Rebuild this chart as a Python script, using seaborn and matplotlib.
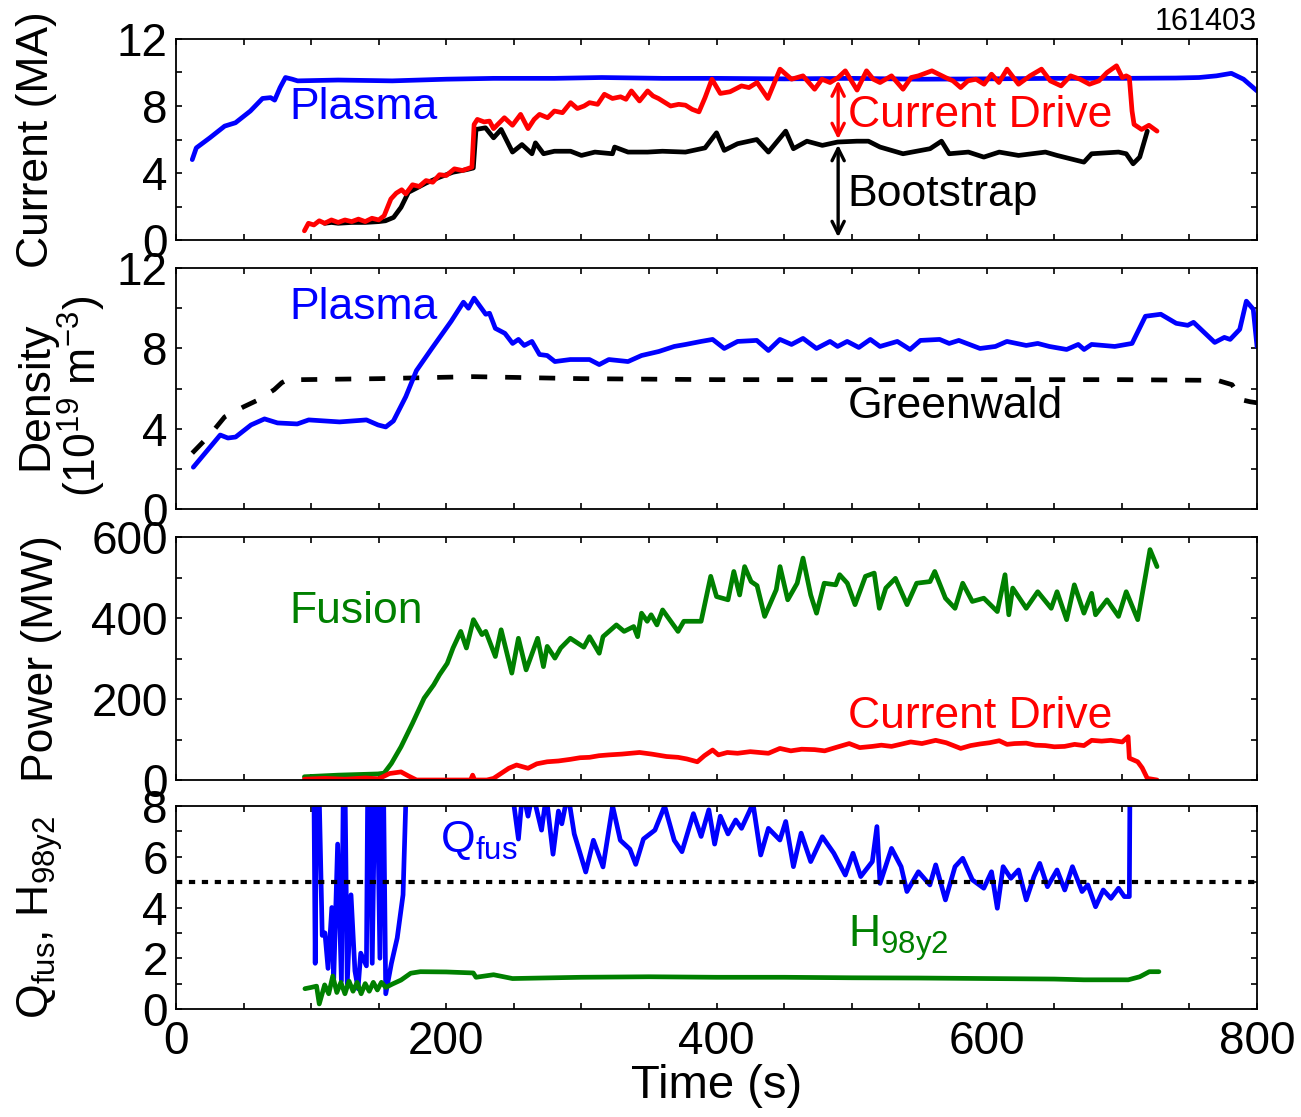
import numpy as np
import matplotlib
matplotlib.use('Agg')
import matplotlib.pyplot as plt
from matplotlib.ticker import MultipleLocator
import seaborn as sns

# ---- panel 1: current (MA) ----
ip_t = [12, 15, 25, 36, 44, 55, 64, 70, 73, 77, 81, 86, 90, 120, 160, 200, 235, 280, 315,
        360, 400, 450, 500, 550, 600, 650, 700, 740, 757, 770, 781, 790, 800]
ip_v = [4.8, 5.5, 6.1, 6.8, 7.0, 7.7, 8.45, 8.5, 8.35, 9.1, 9.7, 9.6, 9.5, 9.55, 9.5, 9.6,
        9.65, 9.65, 9.7, 9.65, 9.65, 9.62, 9.65, 9.6, 9.62, 9.65, 9.65, 9.67, 9.7, 9.8, 9.95,
        9.6, 8.9]

icd_t = [95, 98, 102, 106, 110, 115, 120, 125, 130, 135, 140, 145, 150, 154, 159, 163, 167,
         170, 175, 180, 185, 190, 195, 200, 206, 212, 219, 220.6, 223, 228, 232, 235, 243, 249,
         255, 260.5, 265, 269, 275, 280, 286, 292, 297, 302, 306, 312, 317, 323, 329, 333, 337,
         343, 349, 353, 357, 362, 366, 372, 377, 382, 387, 391.5, 396.6, 402.8, 410, 418.5, 424,
         430, 438, 447, 455.5, 464, 472.6, 478, 484, 490, 495.3, 504, 511, 516, 521, 529.5, 538,
         544, 549.4, 559.4, 569.4, 575, 580.7, 586, 592, 598, 603.5, 609, 615, 623.5, 632,
         640.5, 647, 655, 662, 669, 676, 683, 689, 696, 700.3, 703.2, 705.5, 707.5, 709, 714.6,
         720, 726]
icd_v = [0.55, 1.0, 0.9, 1.15, 1.0, 1.2, 1.05, 1.2, 1.1, 1.25, 1.1, 1.3, 1.2, 1.45, 2.45, 2.8,
         3.0, 2.75, 3.3, 3.2, 3.55, 3.45, 3.9, 3.85, 4.25, 4.15, 4.35, 6.9, 7.2, 7.05, 7.1, 6.65,
         7.3, 6.85, 7.5, 6.65, 7.2, 7.5, 7.3, 7.7, 7.6, 8.2, 7.85, 8.0, 8.2, 8.1, 8.7, 8.45, 8.55,
         8.4, 8.9, 8.3, 8.9, 8.6, 8.45, 8.2, 8.0, 8.1, 8.05, 7.8, 7.65, 8.5, 9.6, 8.75, 8.85, 9.2,
         9.1, 9.4, 8.45, 10.2, 9.6, 9.8, 9.0, 9.6, 9.4, 9.7, 10.1, 8.95, 10.1, 9.6, 9.4, 9.8, 9.0,
         9.7, 9.8, 10.1, 9.7, 9.5, 9.1, 9.5, 9.6, 9.3, 9.9, 9.4, 10.2, 9.3, 9.8, 10.2, 9.5, 9.2,
         9.8, 9.6, 9.3, 9.5, 10.0, 10.4, 9.7, 9.8, 9.7, 7.7, 6.9, 6.6, 6.85, 6.5]

ibs_t = [110, 115, 120, 130, 140, 150, 155, 161, 166.5, 172, 178, 185, 195, 205, 215, 220, 222,
         229, 235, 240.6, 249, 256, 263.4, 266, 272, 280, 292, 300, 310, 323, 324.6, 334.5, 349,
         360, 377, 391.5, 400, 405.7, 415.6, 429.8, 438.4, 451.2, 456.9, 466.9, 478.3, 489.6,
         503.9, 512.4, 521, 538, 558, 566.5, 572.2, 586.4, 597.8, 609.2, 623.5, 643.4, 652,
         671.9, 677.6, 697.5, 703.2, 708.3, 713.2, 718.8]
ibs_v = [1.0, 1.05, 1.0, 1.05, 1.05, 1.1, 1.15, 1.35, 1.95, 2.85, 3.1, 3.4, 3.75, 4.05, 4.2,
         4.3, 6.6, 6.7, 6.1, 6.6, 5.25, 5.7, 5.15, 5.8, 5.15, 5.3, 5.3, 5.05, 5.25, 5.15, 5.55,
         5.25, 5.25, 5.3, 5.25, 5.5, 6.4, 5.35, 5.75, 6.0, 5.25, 6.5, 5.45, 5.9, 5.65, 5.85, 5.9,
         5.9, 5.55, 5.15, 5.45, 5.9, 5.15, 5.25, 4.95, 5.25, 5.05, 5.25, 5.05, 4.65, 5.15, 5.25,
         5.15, 4.55, 4.95, 6.5]

# ---- panel 2: density (1e19 m^-3) ----
ne_t = [12.8, 32.7, 38.4, 44.1, 55.5, 65.5, 75.1, 89.7, 98.2, 121, 140.9, 149.5, 155.2, 160.9,
        170, 177.9, 189.3, 203.6, 212.7, 216.4, 220.6, 229.2, 232, 236.3, 243.4, 249.1, 253.4,
        257.7, 263.4, 269, 274.7, 280.4, 291.8, 306, 313.2, 320.3, 334.5, 344.5, 357.3, 368.7,
        377.2, 388.6, 397.1, 405.7, 415.6, 429.8, 438.4, 446.9, 455.5, 464, 474, 484, 489.6,
        496.7, 505.3, 513.8, 521, 533.8, 543.2, 550.9, 565.1, 572.2, 579.3, 595, 606.4, 614.9,
        629.2, 637.7, 646.3, 659.1, 667.7, 672, 677.6, 694.7, 707.5, 717.4, 728.8, 740.2,
        748.7, 753, 768.7, 775.8, 780.1, 787.2, 792.1, 797.2, 800]
ne_v = [2.1, 3.7, 3.55, 3.6, 4.2, 4.5, 4.3, 4.25, 4.45, 4.35, 4.45, 4.2, 4.1, 4.4, 5.6, 6.9,
        8.0, 9.35, 10.3, 10.0, 10.5, 9.7, 9.75, 9.0, 8.75, 8.25, 8.45, 8.15, 8.35, 7.7, 7.65,
        7.35, 7.45, 7.45, 7.2, 7.45, 7.35, 7.65, 7.85, 8.1, 8.2, 8.35, 8.45, 8.0, 8.35, 8.4, 7.9,
        8.45, 8.2, 8.5, 8.0, 8.35, 8.1, 8.35, 8.05, 8.45, 8.1, 8.35, 7.95, 8.4, 8.45, 8.25, 8.4,
        8.0, 8.1, 8.35, 8.15, 8.25, 8.1, 7.95, 8.2, 7.95, 8.2, 8.1, 8.25, 9.6, 9.7, 9.25, 9.15,
        9.3, 8.3, 8.55, 8.45, 8.95, 10.35, 9.95, 8.1]

ngw_t = [12, 25, 36, 50, 61, 72.6, 78.3, 84, 92.5, 150, 220, 300, 400, 500, 600, 700, 760,
         771.5, 781.5, 788.6, 795, 800]
ngw_v = [2.8, 3.7, 4.6, 5.1, 5.45, 5.95, 6.3, 6.5, 6.45, 6.5, 6.6, 6.5, 6.45, 6.45, 6.45,
         6.45, 6.42, 6.4, 6.2, 5.45, 5.35, 5.3]

# ---- panel 3: power (MW) ----
pfus_t = [95, 120, 149.5, 154, 159.4, 166.5, 175, 183.6, 190.7, 195, 200.7, 205, 210.7, 214.9,
          220.1, 226.4, 229.2, 236.3, 240.6, 248.5, 253.4, 259.1, 267.6, 271.9, 274.7, 280.4,
          284.7, 291.8, 301.8, 306, 313.2, 316, 325.9, 331.6, 338.7, 341.6, 344.5, 348.7, 351.6,
          355.9, 360.1, 371.5, 375.8, 388.6, 395.7, 400, 404.3, 408.5, 412.8, 417.1, 420.8,
          425.6, 430, 435.6, 444.2, 447, 452.7, 459.7, 464, 469.7, 474, 479.7, 488.2, 491.1,
          496.8, 502.5, 510.2, 516.7, 520.5, 525.3, 532.4, 541, 548.1, 558, 561.5, 569.4, 576.5,
          582.2, 589.3, 597.8, 607.8, 613.5, 616.3, 619.2, 629.2, 637.7, 647.7, 652, 659.1,
          664.8, 671.9, 677.6, 680.5, 689, 697.5, 703.2, 711.7, 717.4, 720.8, 726]
pfus_v = [8, 12, 15, 17, 41, 82, 140, 202, 235, 260, 288, 326, 367, 326, 396, 359, 367, 305,
          371, 264, 350, 272, 350, 280, 330, 301, 326, 350, 328, 354, 313, 354, 383, 367, 379,
          354, 412, 392, 408, 383, 420, 367, 392, 392, 503, 453, 449, 445, 515, 457, 527, 490,
          480, 404, 470, 527, 445, 486, 548, 457, 412, 486, 482, 507, 486, 433, 503, 511, 424,
          474, 498, 433, 486, 490, 515, 449, 424, 486, 441, 449, 416, 507, 408, 474, 424, 465,
          424, 465, 396, 482, 412, 461, 408, 445, 404, 465, 396, 503, 569, 527]

pcd_t = [95, 110, 125, 140, 150, 158, 166.5, 172, 178, 200, 218, 219.5, 221, 230, 235, 246.3,
         252, 260.5, 267, 274.7, 283, 291.8, 299, 306, 313, 320.3, 330, 343, 352, 363, 371.5,
         378, 385.8, 391, 397.1, 401.4, 408, 415.6, 425, 438.4, 446.9, 455, 463, 472.6, 480,
         488, 498.2, 506, 515.3, 522, 529.5, 536, 543.7, 552, 562.2, 570, 580.7, 588, 595, 602,
         609.2, 615, 620.6, 629.2, 636, 643.4, 650, 657.6, 665, 671.9, 677.6, 685, 691.8, 700.3,
         704.6, 705.5, 711.7, 715, 718.8, 726]
pcd_v = [2, 4, 2, 5, 3, 16, 20, 10, 0, 0, 0, 12, 0, 0, 4, 29, 37, 29, 40, 45, 47, 51, 55, 56,
         60, 62, 64, 68, 64, 58, 56, 52, 45, 60, 74, 62, 68, 66, 70, 66, 78, 72, 76, 75, 72, 80,
         90, 80, 83, 86, 83, 88, 94, 90, 98, 92, 78, 85, 89, 92, 97, 88, 90, 91, 86, 85, 82, 83,
         88, 85, 98, 96, 98, 94, 107, 54, 45, 30, 4, 0]

# ---- panel 4: Qfus, H98y2 ----
q_t = [101.6, 103, 104.5, 108.2, 110.2, 112.5, 115.3, 116.7, 119.6, 122.4, 124.4, 126.7, 129.5,
       132.4, 134.7, 136.7, 140.9, 142.3, 145.2, 148, 150.9, 152.9, 155.2, 159.4, 163.7, 168,
       172.2, 210, 247.7, 253.4, 256.5, 260.5, 264, 270.5, 274, 279, 283, 285.5, 290, 294.7,
       303.2, 308.9, 316, 323.1, 328.8, 335.9, 340.2, 345.9, 354.4, 361.6, 368.7, 374.4, 382.9,
       388.6, 394.3, 398.6, 402.8, 408.5, 414.2, 418.5, 427, 432.7, 438.4, 446.9, 451.2, 456.9,
       462.6, 469.7, 478.3, 486.8, 495.3, 501, 506.7, 515.3, 518.7, 521, 529.5, 536.6, 540.9,
       549.4, 557.9, 562.2, 569.4, 576.5, 582.2, 589.3, 597.8, 603.5, 607.8, 612.1, 617.8,
       623.5, 629.2, 634.9, 639.2, 644.9, 652, 657.7, 663.4, 670.5, 674.8, 680.5, 686.2, 691.9,
       697.5, 701.8, 705.5, 706.5]
q_v = [12, 1.8, 12, 2.9, 3.0, 1.6, 4.0, 1.2, 6.5, 1.1, 12, 1.0, 4.5, 1.5, 0.8, 2.2, 1.7, 12,
       1.8, 12, 2.0, 12, 0.6, 1.8, 2.8, 4.5, 12, 14, 9, 6.7, 8.6, 7.6, 8.5, 7.05, 8.4, 6.1, 7.8,
       7.3, 8.5, 6.9, 5.4, 6.65, 5.6, 8.0, 6.65, 6.3, 5.7, 6.7, 7.05, 8.0, 6.65, 6.2, 7.7, 6.8,
       7.85, 6.5, 7.6, 6.9, 7.45, 7.12, 8.1, 6.07, 7.12, 6.66, 7.39, 5.61, 6.93, 5.81, 6.79,
       6.14, 5.28, 6.14, 5.22, 5.81, 7.19, 4.95, 6.33, 5.61, 4.63, 5.41, 4.89, 5.68, 4.30, 5.61,
       5.94, 5.09, 4.76, 5.41, 3.97, 5.61, 5.15, 5.48, 4.30, 5.22, 5.74, 4.82, 5.48, 4.69, 5.61,
       4.63, 4.89, 4.03, 4.69, 4.36, 4.76, 4.43, 4.43, 14]

h98_t = [95.4, 100, 104, 106, 110, 113, 116, 119, 122, 125, 128, 131, 134, 137, 140, 143, 146,
         149, 152, 155.2, 160, 166.5, 173.7, 180.8, 200, 220, 222, 235, 249, 300, 350, 400, 450,
         500, 550, 600, 650, 671.9, 704.7, 713.2, 720.3, 727.4]
h98_v = [0.8, 0.85, 0.9, 0.2, 0.95, 0.6, 1.3, 0.65, 1.05, 0.6, 1.1, 0.7, 1.05, 0.6, 1.0, 0.7,
         1.05, 0.75, 1.05, 0.85, 0.98, 1.14, 1.41, 1.47, 1.46, 1.42, 1.25, 1.35, 1.2, 1.25, 1.27,
         1.25, 1.25, 1.23, 1.22, 1.2, 1.18, 1.15, 1.15, 1.27, 1.47, 1.47]

q_target = 5
arrow_t = 490
shot = '161403'

BLUE, RED, GREEN, BLACK = '#0000ff', '#ff0000', '#008000', '#000000'
LW = 3.4
FS = 32

sns.set_theme(style='ticks')
plt.rcParams['font.family'] = ['Liberation Sans', 'DejaVu Sans']
plt.rcParams['mathtext.fontset'] = 'custom'
plt.rcParams['mathtext.rm'] = 'Liberation Sans'
plt.rcParams['mathtext.default'] = 'regular'
for k in ('text.color', 'axes.labelcolor', 'xtick.color', 'ytick.color',
          'xtick.labelcolor', 'ytick.labelcolor', 'axes.edgecolor'):
    plt.rcParams[k] = 'black'

fig = plt.figure(figsize=(13.01, 11.17), dpi=100)
L, W = 0.1353, 0.8309
ax1 = fig.add_axes([L, 0.7851, W, 0.1800])
ax2 = fig.add_axes([L, 0.5439, W, 0.2162])
ax3 = fig.add_axes([L, 0.3017, W, 0.2175])
ax4 = fig.add_axes([L, 0.0967, W, 0.1817])


def line(ax, t, v, color, **kw):
    sns.lineplot(x=t, y=v, ax=ax, color=color, linewidth=kw.pop('lw', LW), sort=False,
                 estimator=None, legend=False, **kw)


# panel 1
line(ax1, ip_t, ip_v, BLUE)
line(ax1, ibs_t, ibs_v, BLACK)
line(ax1, icd_t, icd_v, RED)
top = np.interp(arrow_t, icd_t, icd_v)
mid = np.interp(arrow_t, ibs_t, ibs_v)
ax1.annotate('', xy=(arrow_t, top), xytext=(arrow_t, mid),
             arrowprops=dict(arrowstyle='<->', color=RED, lw=2.4, mutation_scale=22))
ax1.annotate('', xy=(arrow_t, mid), xytext=(arrow_t, 0),
             arrowprops=dict(arrowstyle='<->', color=BLACK, lw=2.4, mutation_scale=22))
ax1.text(84, 7.9, 'Plasma', color=BLUE, fontsize=FS, va='center')
ax1.text(497, 7.45, 'Current Drive', color=RED, fontsize=FS, va='center')
ax1.text(497, 2.7, 'Bootstrap', color=BLACK, fontsize=FS, va='center')
ax1.text(1.0, 1.085, shot, transform=ax1.transAxes, ha='right', va='center', fontsize=22)
ax1.set_ylim(0, 12)
ax1.yaxis.set_major_locator(MultipleLocator(4))
ax1.yaxis.set_minor_locator(MultipleLocator(2))
ax1.set_ylabel('Current (MA)', va='center')
ax1.yaxis.set_label_coords(-0.1295, 0.5)

# panel 2
line(ax2, ngw_t, ngw_v, BLACK, linestyle=(0, (3.4, 3.8)))
line(ax2, ne_t, ne_v, BLUE)
ax2.text(84, 10.05, 'Plasma', color=BLUE, fontsize=FS, va='center')
ax2.text(497, 5.1, 'Greenwald', color=BLACK, fontsize=FS, va='center')
ax2.set_ylim(0, 12)
ax2.yaxis.set_major_locator(MultipleLocator(4))
ax2.yaxis.set_minor_locator(MultipleLocator(2))
ax2.set_ylabel('Density\n(10$^{19}$ m$^{-3}$)', va='center', linespacing=1.0)
ax2.yaxis.set_label_coords(-0.106, 0.47)

# panel 3
line(ax3, pfus_t, pfus_v, GREEN)
line(ax3, pcd_t, pcd_v, RED)
ax3.text(84, 417, 'Fusion', color=GREEN, fontsize=FS, va='center')
ax3.text(497, 158, 'Current Drive', color=RED, fontsize=FS, va='center')
ax3.set_ylim(0, 600)
ax3.yaxis.set_major_locator(MultipleLocator(200))
ax3.yaxis.set_minor_locator(MultipleLocator(100))
ax3.set_ylabel('Power (MW)', va='center')
ax3.yaxis.set_label_coords(-0.124, 0.5)

# panel 4
line(ax4, q_t, q_v, BLUE)
line(ax4, h98_t, h98_v, GREEN)
ax4.axhline(q_target, color=BLACK, lw=3.0, linestyle=(0, (1.5, 1.6)), dash_capstyle='butt')
ax4.text(195, 6.65, 'Q$_{fus}$', color=BLUE, fontsize=FS, va='center')
ax4.text(497, 2.8, 'H$_{98y2}$', color=GREEN, fontsize=FS, va='center')
ax4.set_ylim(0, 8)
ax4.yaxis.set_major_locator(MultipleLocator(2))
ax4.yaxis.set_minor_locator(MultipleLocator(1))
ax4.set_ylabel('Q$_{fus}$, H$_{98y2}$', va='center')
ax4.yaxis.set_label_coords(-0.126, 0.45)
ax4.set_xlabel('Time (s)', fontsize=34, labelpad=0)

for ax in (ax1, ax2, ax3, ax4):
    ax.set_xlim(0, 800)
    ax.xaxis.set_major_locator(MultipleLocator(200))
    ax.xaxis.set_minor_locator(MultipleLocator(50))
    ax.tick_params(which='both', direction='in', top=True, right=True,
                   length=4, width=1.2, labelsize=33, pad=6, color=BLACK,
                   labelcolor=BLACK)
    ax.yaxis.label.set_size(FS)
    ax.yaxis.label.set_color(BLACK)
    for s in ax.spines.values():
        s.set_linewidth(1.3)
        s.set_color(BLACK)
    if ax is not ax4:
        ax.tick_params(labelbottom=False)
        ax.set_xlabel('')
ax4.tick_params(axis='x', pad=8)
ax4.xaxis.label.set_color(BLACK)

fig.savefig('out.png', dpi=100)
